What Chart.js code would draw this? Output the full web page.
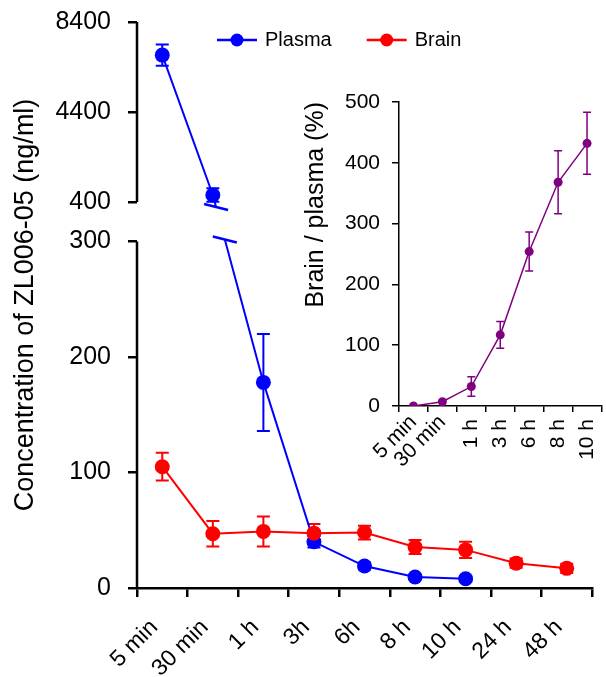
<!DOCTYPE html>
<html>
<head>
<meta charset="utf-8">
<script src="https://cdn.jsdelivr.net/npm/chart.js@4.4.0/dist/chart.umd.min.js"></script>
<style>
html, body { margin: 0; padding: 0; background: #fff; }
#wrap { position: relative; width: 606px; height: 677px; overflow: hidden; }
#mainChart { position: absolute; left: 0; top: 0; }
#insetChart { position: absolute; left: 290px; top: 60px; }
</style>
</head>
<body>
<div id="wrap">
  <canvas id="mainChart" width="606" height="677"></canvas>
  <canvas id="insetChart" width="316" height="430"></canvas>
</div>
<script>
// main chart data
var timeLabels = ['5 min', '30 min', '1 h', '3h', '6h', '8 h', '10 h', '24 h', '48 h'];
var plasmaValues = [6930, 710, 178, 40, 19, 9.5, 8];
var plasmaErrors = [470, 300, 42, 5, 3, 2, 2];
var brainValues = [105, 47, 49, 47.5, 48, 35.5, 33, 21.5, 17];
var brainErrors = [12, 11, 13, 8, 6, 6, 7, 4, 4];
var mainTicks = [0, 100, 200, 300, 400, 4400, 8400];

// inset data
var ratioLabels = ['5 min', '30 min', '1 h', '3 h', '6 h', '8 h', '10 h'];
var ratioValues = [0, 7, 32, 117, 254, 368, 432];
var ratioErrors = [0, 0, 16, 22, 32, 52, 51];

Chart.defaults.font.family = '"Liberation Sans", Arial, sans-serif';
Chart.defaults.color = '#000';

// linear scale with a gap between two value ranges
class BrokenScale extends Chart.LinearScale {
    static id = 'brokenLinear';
    static defaults = Chart.LinearScale.defaults;
    toDecimal(v) {
        var b = this.options.breakRange, p = this.options.breakParts;
        if (v <= b[0]) return v / b[0] * p[0];
        if (v >= b[1]) return p[0] + p[1] + (v - b[1]) / (this.max - b[1]) * (1 - p[0] - p[1]);
        return p[0] + (v - b[0]) / (b[1] - b[0]) * p[1];
    }
    getPixelForValue(v) {
        return this.getPixelForDecimal(this.toDecimal(v));
    }
    getValueForPixel(px) {
        var d = this.getDecimalForPixel(px);
        var b = this.options.breakRange, p = this.options.breakParts;
        if (d <= p[0]) return d / p[0] * b[0];
        if (d >= p[0] + p[1]) return b[1] + (d - p[0] - p[1]) / (1 - p[0] - p[1]) * (this.max - b[1]);
        return b[0] + (d - p[0]) / p[1] * (b[1] - b[0]);
    }
}
Chart.register(BrokenScale);

var errorBarPlugin = {
    id: 'errorBars',
    beforeDatasetsDraw: function(chart, args, opts) {
        var ctx = chart.ctx, yScale = chart.scales.y;
        chart.data.datasets.forEach(function(ds, i) {
            if (!ds.errors) return;
            var meta = chart.getDatasetMeta(i);
            ctx.save();
            ctx.strokeStyle = ds.borderColor;
            ctx.lineWidth = opts.lineWidth;
            meta.data.forEach(function(pt, j) {
                var e = ds.errors[j];
                if (!e) return;
                var top = yScale.getPixelForValue(ds.data[j] + e);
                var bot = yScale.getPixelForValue(ds.data[j] - e);
                var w = opts.capWidth / 2;
                ctx.beginPath();
                ctx.moveTo(pt.x, top); ctx.lineTo(pt.x, bot);
                ctx.moveTo(pt.x - w, top); ctx.lineTo(pt.x + w, top);
                ctx.moveTo(pt.x - w, bot); ctx.lineTo(pt.x + w, bot);
                ctx.stroke();
            });
            ctx.restore();
        });
    }
};

// broken y axis line, gap in the plasma line and the break marks
var brokenAxisPlugin = {
    id: 'brokenAxis',
    afterDatasetsDraw: function(chart) {
        var ctx = chart.ctx, y = chart.scales.y, area = chart.chartArea;
        var b = y.options.breakRange;
        var yUp = y.getPixelForValue(b[1]) + 5, yLow = y.getPixelForValue(b[0]) - 2;
        ctx.save();
        ctx.fillStyle = '#fff';
        ctx.fillRect(area.left + 2, yUp, area.right - area.left, yLow - yUp);
        chart.data.datasets.forEach(function(ds, i) {
            var pts = chart.getDatasetMeta(i).data;
            for (var j = 0; j < pts.length - 1; j++) {
                if (ds.data[j] >= b[1] && ds.data[j + 1] <= b[0]) {
                    var p0 = pts[j], p1 = pts[j + 1];
                    ctx.strokeStyle = ds.borderColor;
                    ctx.lineWidth = 2.5;
                    [yUp, yLow].forEach(function(yy) {
                        var xx = p0.x + (yy - p0.y) / (p1.y - p0.y) * (p1.x - p0.x);
                        ctx.beginPath();
                        ctx.moveTo(xx - 12, yy - 3);
                        ctx.lineTo(xx + 12, yy + 3);
                        ctx.stroke();
                    });
                }
            }
        });
        ctx.restore();
    },
    afterDraw: function(chart) {
        var ctx = chart.ctx, y = chart.scales.y, x = chart.chartArea.left;
        var b = y.options.breakRange;
        ctx.save();
        ctx.strokeStyle = '#000';
        ctx.lineWidth = 2.5;
        ctx.beginPath();
        ctx.moveTo(x, y.getPixelForValue(0) + 1); ctx.lineTo(x, y.getPixelForValue(b[0]));
        ctx.moveTo(x, y.getPixelForValue(b[1])); ctx.lineTo(x, y.getPixelForValue(y.max));
        ctx.stroke();
        ctx.restore();
    }
};

var lineLegendPlugin = {
    id: 'lineLegend',
    afterDraw: function(chart) {
        var ctx = chart.ctx, x = 217, y = 40;
        ctx.save();
        ctx.font = '20px "Liberation Sans", Arial, sans-serif';
        ctx.textBaseline = 'middle';
        chart.data.datasets.forEach(function(ds) {
            ctx.strokeStyle = ds.borderColor;
            ctx.lineWidth = 2.5;
            ctx.beginPath(); ctx.moveTo(x, y); ctx.lineTo(x + 40, y); ctx.stroke();
            ctx.fillStyle = ds.borderColor;
            ctx.beginPath(); ctx.arc(x + 20, y, 6.5, 0, 2 * Math.PI); ctx.fill();
            ctx.fillStyle = '#000';
            ctx.fillText(ds.label, x + 48, y);
            x += 48 + ctx.measureText(ds.label).width + 35;
        });
        ctx.restore();
    }
};

// inset x labels: "min" labels at 45 degrees, hours upright
var mixedLabelPlugin = {
    id: 'mixedLabels',
    afterDraw: function(chart) {
        var ctx = chart.ctx, s = chart.scales.x, y0 = s.top + 13;
        ctx.save();
        ctx.font = '21px "Liberation Sans", Arial, sans-serif';
        ctx.fillStyle = '#000';
        ctx.textAlign = 'right';
        ctx.textBaseline = 'middle';
        chart.data.labels.forEach(function(lbl, i) {
            var x = s.getPixelForValue(i);
            ctx.save();
            ctx.translate(x, y0);
            ctx.rotate(lbl.indexOf('min') >= 0 ? -Math.PI / 4 : -Math.PI / 2);
            ctx.fillText(lbl, 0, 0);
            ctx.restore();
        });
        ctx.restore();
    }
};

new Chart(document.getElementById('mainChart'), {
    type: 'line',
    data: {
        labels: timeLabels,
        datasets: [{
            label: 'Plasma',
            data: plasmaValues,
            errors: plasmaErrors,
            borderColor: '#0000ff',
            backgroundColor: '#0000ff',
            borderWidth: 2,
            pointRadius: 7.5,
            pointBorderWidth: 0,
            tension: 0,
            order: 1
        }, {
            label: 'Brain',
            data: brainValues,
            errors: brainErrors,
            borderColor: '#ff0000',
            backgroundColor: '#ff0000',
            borderWidth: 2,
            pointRadius: 7.5,
            pointBorderWidth: 0,
            tension: 0,
            order: 0
        }]
    },
    options: {
        responsive: false,
        animation: false,
        layout: { padding: { left: 0, top: 22, right: 14, bottom: 0 } },
        plugins: {
            legend: { display: false },
            tooltip: { enabled: false },
            errorBars: { lineWidth: 2, capWidth: 13 }
        },
        scales: {
            x: {
                offset: true,
                grid: { offset: true, drawOnChartArea: false, tickLength: 9, color: '#000', lineWidth: 2.5 },
                border: { color: '#000', width: 2.5 },
                ticks: { autoSkip: false, minRotation: 45, maxRotation: 45, font: { size: 23 }, padding: 17, labelOffset: -8 },
                afterFit: function(s) { s.height = 89; s.paddingLeft = 0; s.paddingRight = 0; }
            },
            y: {
                type: 'brokenLinear',
                min: 0,
                max: 8400,
                breakRange: [300, 400],
                breakParts: [0.6122, 0.0698],
                afterBuildTicks: function(s) { s.ticks = mainTicks.map(function(v) { return { value: v }; }); },
                ticks: { callback: function(v) { return String(v); }, font: { size: 25 }, padding: 17 },
                grid: { drawOnChartArea: false, tickLength: 9, color: '#000', lineWidth: 2.5 },
                border: { display: false },
                title: { display: true, text: 'Concentration of ZL006-05 (ng/ml)', font: { size: 27 }, padding: { top: 9, bottom: 0 } },
                afterFit: function(s) { s.width = 137; s.paddingTop = 0; s.paddingBottom = 0; }
            }
        }
    },
    plugins: [errorBarPlugin, brokenAxisPlugin, lineLegendPlugin]
});

new Chart(document.getElementById('insetChart'), {
    type: 'line',
    data: {
        labels: ratioLabels,
        datasets: [{
            label: 'Brain / plasma',
            data: ratioValues,
            errors: ratioErrors,
            borderColor: '#800080',
            backgroundColor: '#800080',
            borderWidth: 1.5,
            pointRadius: 4.5,
            pointBorderWidth: 0,
            tension: 0
        }]
    },
    options: {
        responsive: false,
        animation: false,
        layout: { padding: { left: 0, top: 42, right: 1, bottom: 0 } },
        plugins: {
            legend: { display: false },
            tooltip: { enabled: false },
            errorBars: { lineWidth: 1.5, capWidth: 8 }
        },
        scales: {
            x: {
                offset: true,
                grid: { offset: true, drawOnChartArea: false, tickLength: 6, color: '#000', lineWidth: 1.5 },
                border: { color: '#000', width: 1.5 },
                ticks: { display: false },
                afterFit: function(s) { s.height = 84; s.paddingLeft = 0; s.paddingRight = 0; }
            },
            y: {
                min: 0,
                max: 500,
                ticks: { stepSize: 100, font: { size: 21 }, padding: 12 },
                grid: { drawOnChartArea: false, tickLength: 7, color: '#000', lineWidth: 1.5 },
                border: { color: '#000', width: 1.5 },
                title: { display: true, text: 'Brain / plasma (%)', align: 'end', font: { size: 25 }, padding: { top: 11, bottom: 0 } },
                afterFit: function(s) { s.width = 109; s.paddingTop = 0; s.paddingBottom = 0; }
            }
        }
    },
    plugins: [errorBarPlugin, mixedLabelPlugin]
});
</script>
</body>
</html>
